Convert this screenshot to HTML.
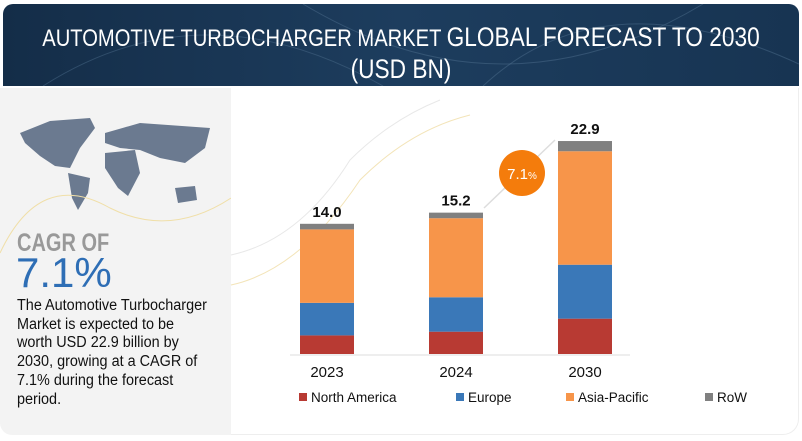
<!DOCTYPE html>
<html><head><meta charset="utf-8"><style>
body{margin:0;width:802px;height:441px;background:#fff;overflow:hidden;font-family:"Liberation Sans",sans-serif;position:relative}
#hdr{position:absolute;left:3px;top:4px;width:796px;height:82px;border-radius:10px 10px 0 0;background:linear-gradient(90deg,#142d48,#1d3d5e 50%,#173452);overflow:hidden}
#hdr .t{position:absolute;left:-100px;right:-100px;top:18px;text-align:center;color:#fff;font-size:24px;line-height:31px;white-space:nowrap;transform:scaleX(0.84)}
#left{position:absolute;left:0;top:88px;width:231px;height:347px;background:#f3f3f3;border-radius:0 0 0 12px}
#frame{position:absolute;left:231px;top:88px;width:567px;height:346px;border-right:1px solid #eee;border-bottom:1px solid #eee;border-radius:0 0 16px 0}
.sum{position:absolute;left:17px;top:297px;color:#111;font-size:15.5px;line-height:18.7px;white-space:nowrap;transform:scaleX(0.93);transform-origin:left}
</style></head><body>
<div id="hdr">
<svg width="796" height="82" style="position:absolute;left:0;top:0">
<path d="M40 82 Q200 -20 380 82" stroke="#4a6a88" fill="none" opacity=".5"/>
<path d="M300 0 Q500 120 700 0" stroke="#5a7a98" fill="none" opacity=".4"/>
<path d="M480 82 Q600 -30 796 60" stroke="#5a7a98" fill="none" opacity=".4"/>
</svg>
<div class="t">AUTOMOTIVE TURBOCHARGER MARKET <span style="font-size:27px">GLOBAL FORECAST TO 2030</span><br><span style="font-size:27px">(USD BN)</span></div>
</div>
<div id="left">
<svg width="231" height="130" style="position:absolute;left:0;top:0">
<path d="M20 45 L50 33 L90 30 L95 40 L80 60 L70 80 L55 78 L40 68 L25 55 Z" fill="#6b7a90"/>
<path d="M68 85 L90 90 L88 105 L78 122 L72 110 Z" fill="#6b7a90"/>
<path d="M105 45 L140 35 L210 40 L205 60 L185 75 L160 70 L140 62 L120 60 L105 55 Z" fill="#6b7a90"/>
<path d="M105 65 L135 62 L140 85 L128 108 L118 100 L105 80 Z" fill="#6b7a90"/>
<path d="M175 100 L195 98 L197 112 L178 115 Z" fill="#6b7a90"/>
</svg>
<svg width="231" height="347" style="position:absolute;left:0;top:0"><path d="M0 165 Q40 80 110 120 Q170 150 231 110" stroke="#f0dfa8" fill="none"/></svg>
</div>
<div style="position:absolute;left:17px;top:229px;color:#999;font-size:25px;font-weight:bold;transform:scaleX(.8);transform-origin:left">CAGR OF</div>
<div style="position:absolute;left:16px;top:249px;color:#2e6eb5;font-size:42px">7.1%</div>
<div class="sum">The Automotive Turbocharger<br>Market is expected to be<br>worth USD 22.9 billion by<br>2030, growing at a CAGR of<br>7.1% during the forecast<br>period.</div>
<div id="frame"></div>
<svg id="chart" width="802" height="441" style="position:absolute;left:0;top:0">
<path d="M231 255 Q300 240 350 160 Q390 120 440 100" stroke="#e8e8e8" fill="none"/>
<path d="M231 285 Q300 270 360 180 Q410 130 470 115" stroke="#f3e4b8" fill="none"/>
<line x1="484" y1="208" x2="555" y2="140" stroke="#ddd" stroke-width="1.5"/>
<circle cx="522" cy="173" r="23" fill="#f47c0c"/>
<text x="522" y="179" text-anchor="middle" fill="#fff" font-size="15" font-family="Liberation Sans">7.1<tspan font-size="10">%</tspan></text>
<line x1="290" y1="355" x2="630" y2="355" stroke="#ddd"/>
<g id="bars"></g>
</svg>
<script>
const categories=["2023","2024","2030"];
const seriesNames=["North America","Europe","Asia-Pacific","RoW"];
const northAmerica=[2.0,2.4,3.8];
const europe=[3.5,3.7,5.8];
const asiaPacific=[7.9,8.5,12.2];
const row=[0.6,0.6,1.1];
const totals=["14.0","15.2","22.9"];
const colors=["#b83a33","#3a78b8","#f7954a","#808080"];
const base=354, scale=9.3, x0=327, step=129, bw=54;
const yv=v=>base-v*scale;
const xc=i=>x0+i*step;
const ns="http://www.w3.org/2000/svg";
const g=document.getElementById('bars');
const series=[northAmerica,europe,asiaPacific,row];
categories.forEach((c,i)=>{
 let cum=0;
 series.forEach((s,k)=>{
  const r=document.createElementNS(ns,'rect');
  r.setAttribute('x',xc(i)-bw/2);r.setAttribute('width',bw);
  r.setAttribute('y',yv(cum+s[i]));r.setAttribute('height',s[i]*scale);
  r.setAttribute('fill',colors[k]);
  
  
  g.appendChild(r);cum+=s[i];
 });
 const t=document.createElementNS(ns,'text');
 t.setAttribute('x',xc(i));t.setAttribute('y',yv(cum)-7);t.setAttribute('text-anchor','middle');
 t.setAttribute('font-size','15');t.setAttribute('font-weight','bold');t.setAttribute('fill','#111');
 t.textContent=totals[i];
 
 
 g.appendChild(t);
 const l=document.createElementNS(ns,'text');
 l.setAttribute('x',xc(i));l.setAttribute('y',377);l.setAttribute('text-anchor','middle');
 l.setAttribute('font-size','15');l.setAttribute('fill','#111');
 l.textContent=c;
 
 
 g.appendChild(l);
});
const lx=[299,456,566,705];
seriesNames.forEach((n,k)=>{
 const r=document.createElementNS(ns,'rect');
 r.setAttribute('x',lx[k]);r.setAttribute('y',393);r.setAttribute('width',8);r.setAttribute('height',8);r.setAttribute('fill',colors[k]);
 
 
 g.appendChild(r);
 const t=document.createElementNS(ns,'text');
 t.setAttribute('x',lx[k]+12);t.setAttribute('y',402);t.setAttribute('font-size','13.5');t.setAttribute('fill','#111');
 t.textContent=n;
 
 
 g.appendChild(t);
});
</script>
</body></html>
